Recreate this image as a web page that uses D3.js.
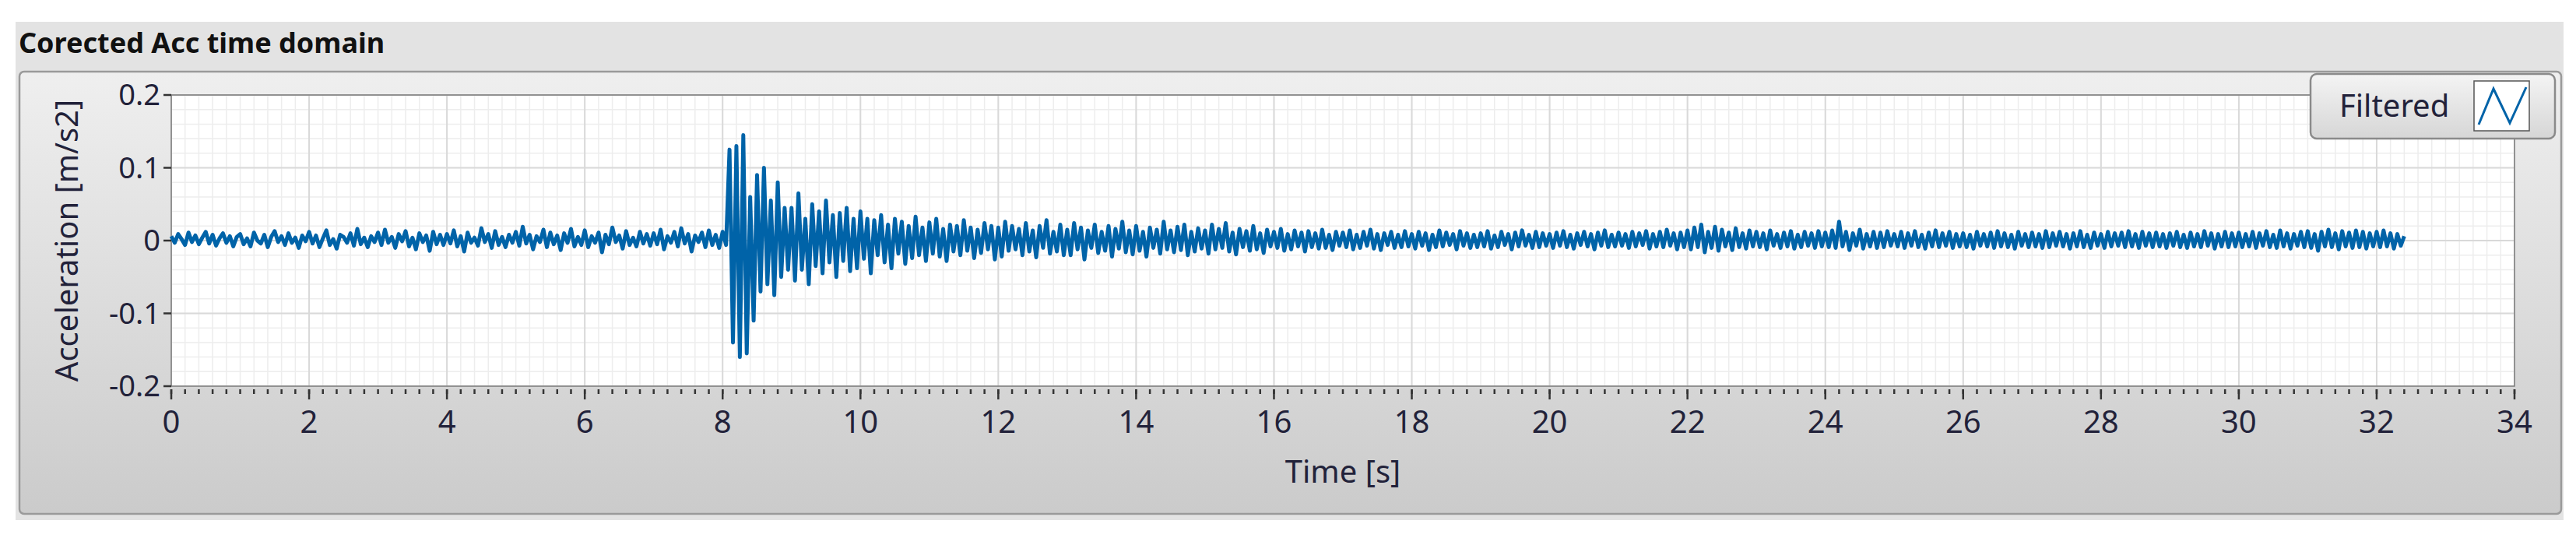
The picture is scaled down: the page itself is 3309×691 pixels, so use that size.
<!DOCTYPE html>
<html>
<head>
<meta charset="utf-8">
<script src="https://cdn.jsdelivr.net/npm/d3@7"></script>
<style>
  body { margin: 0; background: #fff; }
  svg { display: block; font-family: "Noto Sans", "Open Sans", sans-serif; }
</style>
</head>
<body>
<svg id="canvas" width="3309" height="691"></svg>
<script>
// sample spacing of the trace, seconds
const dt = 0.05;
// acceleration, 1e-3 m/s2, one row per second starting at t = 0
const accRows = [
  [6,-3,9,2,-6,11,-2,7,-5,4,12,-4,8,-7,3,10,-3,6,-8,5],
  [9,-5,3,-8,11,0,-4,8,-9,5,13,-2,6,-6,10,-3,4,-10,7,-1],
  [12,-4,7,-9,3,14,-6,2,-11,8,5,-3,10,-7,16,-5,4,-9,6,-2],
  [11,-6,15,-3,5,-10,9,-1,13,-8,4,-12,10,-2,7,-14,12,-5,8,-6],
  [9,-4,14,-8,6,-15,11,-3,4,-7,17,-2,9,-10,13,-6,5,-9,8,-3],
  [12,-7,19,-4,8,-12,6,-2,15,-9,11,-5,7,-13,10,-3,16,-8,5,-6],
  [14,-9,6,-3,11,-16,8,-5,18,-2,7,-11,13,-6,4,-8,12,-4,9,-7],
  [10,-5,15,-12,6,-3,12,-8,17,-4,9,-15,7,-2,11,-9,14,-6,8,-10],
  [12,-6,125,-140,130,-160,145,-155,60,-110,90,-70,100,-60,55,-75,80,-50,45,-40],
  [45,-55,65,-40,30,-60,50,-35,40,-45,55,-30,35,-50,38,-28,45,-42,30,-38],
  [40,-25,30,-45,28,-20,35,-30,22,-38,30,-18,26,-32,20,-24,33,-20,18,-28],
  [25,-18,30,-22,16,-28,22,-15,20,-20,28,-14,18,-24,15,-17,24,-12,20,-26],
  [18,-22,26,-14,20,-12,16,-20,24,-15,14,-23,20,-10,28,-18,12,-15,22,-20],
  [15,-20,24,-12,18,-26,14,-10,22,-17,12,-14,20,-22,16,-11,26,-16,14,-19],
  [20,-14,12,-22,18,-10,15,-18,26,-12,14,-16,19,-13,22,-20,12,-15,17,-11],
  [14,-18,22,-12,16,-10,24,-15,11,-19,16,-9,13,-14,20,-12,10,-17,15,-8],
  [12,-10,16,-14,9,-12,14,-8,11,-15,13,-9,10,-11,15,-10,8,-13,12,-7],
  [11,-9,14,-12,8,-10,12,-7,15,-11,9,-13,10,-6,12,-10,8,-9,13,-8],
  [9,-11,12,-7,10,-13,8,-9,14,-8,11,-6,9,-12,13,-7,10,-10,8,-9],
  [10,-8,13,-11,7,-9,12,-6,9,-12,11,-8,14,-7,8,-10,12,-9,10,-7],
  [9,-10,11,-7,13,-9,8,-11,10,-6,12,-8,9,-12,11,-7,14,-9,8,-8],
  [11,-7,9,-10,12,-8,10,-6,13,-11,9,-8,12,-9,15,-7,10,-12,11,-9],
  [14,-12,18,-9,22,-16,12,-10,19,-14,15,-8,11,-13,17,-9,10,-11,14,-8],
  [12,-9,10,-12,14,-7,9,-10,11,-8,13,-11,8,-9,12,-7,10,-10,13,-8],
  [11,-9,14,-10,26,-8,12,-13,10,-7,15,-11,9,-8,12,-10,11,-9,13,-7],
  [9,-8,12,-10,10,-7,13,-9,8,-11,11,-8,14,-9,10,-7,12,-10,9,-8],
  [10,-9,8,-11,12,-7,9,-8,11,-10,13,-8,10,-9,8,-11,12,-7,9,-9],
  [11,-8,9,-10,13,-9,10,-7,12,-8,9,-11,10,-8,13,-9,8,-10,11,-7],
  [9,-10,12,-8,10,-7,11,-9,13,-8,9,-10,12,-7,10,-9,11,-8,9,-10],
  [10,-7,12,-9,8,-10,11,-8,9,-9,13,-7,10,-11,9,-8,12,-9,10,-8],
  [11,-9,9,-8,12,-10,10,-7,13,-9,8,-10,14,-8,10,-11,9,-7,12,-9],
  [13,-10,9,-14,12,-8,15,-9,10,-12,13,-8,11,-10,14,-9,12,-11,10,-8],
  [12,-9,14,-8,10,-11,9,-7,6]
];
const xTicks = [0,2,4,6,8,10,12,14,16,18,20,22,24,26,28,30,32,34];
const yTicks = [-0.2,-0.1,0,0.1,0.2];
const yTickLabels = ['-0.2','-0.1','0','0.1','0.2'];

const svg = d3.select('#canvas');
const pL = 220, pR = 3230, pT = 122, pB = 496;

const x = d3.scaleLinear().domain([0, 34]).range([pL, pR]);
const y = d3.scaleLinear().domain([-0.2, 0.2]).range([pB, pT]);

const data = accRows.flat().map((v, i) => ({ t: i * dt, a: v / 1000 }));

const defs = svg.append('defs');
const g1 = defs.append('linearGradient').attr('id', 'panel').attr('x1', 0).attr('x2', 0).attr('y1', 0).attr('y2', 1);
g1.append('stop').attr('offset', '0').attr('stop-color', '#efefef');
g1.append('stop').attr('offset', '1').attr('stop-color', '#cbcbcb');
const g2 = defs.append('linearGradient').attr('id', 'leg').attr('x1', 0).attr('x2', 0).attr('y1', 0).attr('y2', 1);
g2.append('stop').attr('offset', '0').attr('stop-color', '#f4f4f4');
g2.append('stop').attr('offset', '1').attr('stop-color', '#d6d6d6');

// background frames
svg.append('rect').attr('x', 20).attr('y', 28).attr('width', 3273).attr('height', 640).attr('fill', '#e3e3e3');
svg.append('rect').attr('x', 25).attr('y', 92).attr('width', 3265).attr('height', 568).attr('rx', 6)
  .attr('fill', 'url(#panel)').attr('stroke', '#9a9a9a').attr('stroke-width', 2.5);

svg.append('text').attr('x', 24).attr('y', 68).attr('font-size', 36).attr('font-weight', 'bold')
  .attr('fill', '#111').text('Corected Acc time domain');

// plot area
svg.append('rect').attr('x', pL).attr('y', pT).attr('width', pR - pL).attr('height', pB - pT).attr('fill', '#fff');

const minorX = d3.range(0, 34.001, 0.2);
const minorY = d3.range(-0.2, 0.2001, 0.02);
svg.append('g').selectAll('line').data(minorX).join('line')
  .attr('x1', d => x(d)).attr('x2', d => x(d)).attr('y1', pT).attr('y2', pB)
  .attr('stroke', '#ededed').attr('stroke-width', 1.5);
svg.append('g').selectAll('line').data(minorY).join('line')
  .attr('y1', d => y(d)).attr('y2', d => y(d)).attr('x1', pL).attr('x2', pR)
  .attr('stroke', '#ededed').attr('stroke-width', 1.5);
svg.append('g').selectAll('line').data(xTicks).join('line')
  .attr('x1', d => x(d)).attr('x2', d => x(d)).attr('y1', pT).attr('y2', pB)
  .attr('stroke', '#d9d9d9').attr('stroke-width', 2);
svg.append('g').selectAll('line').data(yTicks).join('line')
  .attr('y1', d => y(d)).attr('y2', d => y(d)).attr('x1', pL).attr('x2', pR)
  .attr('stroke', '#d9d9d9').attr('stroke-width', 2);

svg.append('rect').attr('x', pL).attr('y', pT).attr('width', pR - pL).attr('height', pB - pT)
  .attr('fill', 'none').attr('stroke', '#7a7a7a').attr('stroke-width', 1.5);

// trace
svg.append('path').datum(data)
  .attr('d', d3.line().x(d => x(d.t)).y(d => y(d.a)))
  .attr('fill', 'none').attr('stroke', '#0063a8').attr('stroke-width', 5).attr('stroke-linejoin', 'round');

// x axis
const xAxis = svg.append('g').attr('transform', `translate(0,${pB + 4})`);
xAxis.selectAll('line.minor').data(minorX).join('line').attr('class', 'minor')
  .attr('x1', d => x(d)).attr('x2', d => x(d)).attr('y1', 0).attr('y2', 6)
  .attr('stroke', '#333').attr('stroke-width', 2.5);
xAxis.selectAll('line.major').data(xTicks).join('line').attr('class', 'major')
  .attr('x1', d => x(d)).attr('x2', d => x(d)).attr('y1', 0).attr('y2', 13)
  .attr('stroke', '#333').attr('stroke-width', 2.5);
xAxis.selectAll('text').data(xTicks).join('text')
  .attr('x', d => x(d)).attr('y', 56).attr('text-anchor', 'middle')
  .attr('font-size', 40).attr('fill', '#22223a').text(d => d);

// y axis
const yAxis = svg.append('g');
yAxis.selectAll('line').data(yTicks).join('line')
  .attr('x1', pL - 10).attr('x2', pL).attr('y1', d => y(d)).attr('y2', d => y(d))
  .attr('stroke', '#333').attr('stroke-width', 2.5);
yAxis.selectAll('text').data(yTicks).join('text')
  .attr('x', pL - 14).attr('y', d => y(d) + 13).attr('text-anchor', 'end')
  .attr('font-size', 38).attr('fill', '#22223a').text((d, i) => yTickLabels[i]);

svg.append('text').attr('transform', `translate(100,${(pT + pB) / 2}) rotate(-90)`)
  .attr('text-anchor', 'middle').attr('font-size', 40).attr('fill', '#22223a').text('Acceleration [m/s2]');
svg.append('text').attr('x', (pL + pR) / 2).attr('y', 620).attr('text-anchor', 'middle')
  .attr('font-size', 40).attr('fill', '#22223a').text('Time [s]');

// legend
const leg = svg.append('g');
leg.append('rect').attr('x', 2968).attr('y', 95).attr('width', 314).attr('height', 83).attr('rx', 8)
  .attr('fill', 'url(#leg)').attr('stroke', '#8a8a8a').attr('stroke-width', 2.5);
leg.append('text').attr('x', 3005).attr('y', 150).attr('font-size', 40).attr('fill', '#22223a').text('Filtered');
leg.append('rect').attr('x', 3178).attr('y', 104).attr('width', 71).attr('height', 64)
  .attr('fill', '#fff').attr('stroke', '#555').attr('stroke-width', 1.5);
leg.append('path').attr('d', 'M3184,160 L3203,114 L3224,158 L3245,112')
  .attr('fill', 'none').attr('stroke', '#0063a8').attr('stroke-width', 3);
</script>
</body>
</html>
